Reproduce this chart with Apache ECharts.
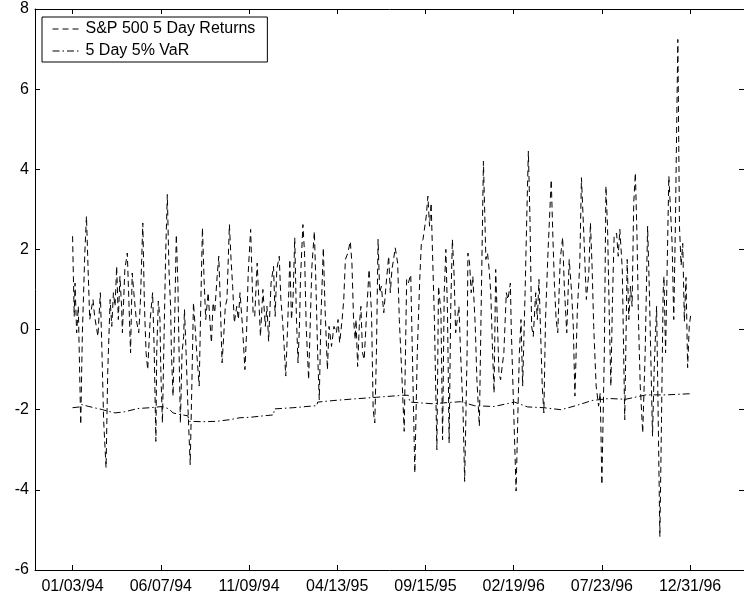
<!DOCTYPE html>
<html>
<head>
<meta charset="utf-8">
<script src="https://cdn.jsdelivr.net/npm/echarts@6/dist/echarts.min.js"></script>
<style>html,body{margin:0;padding:0;background:#fff}#c{width:744px;height:600px}</style>
</head>
<body>
<div id="c"></div>
<script>
// trading-day index (0 = 01/03/94) and 5-day returns
var returnDays = [0,2,3,5,7,10,12,15,17,19,21,23,25,27,29,31,34,36,38,41,43,46,48,50,52,54,56,58,60,61,64,67,69,71,73,75,78,81,83,86,88,90,92,95,98,100,102,103,105,107,108,110,112,114,116,118,120,121,123,125,127,129,130,132,134,136,137,139,141,144,146,148,150,152,155,157,159,161,163,166,168,170,172,174,177,179,181,183,185,187,189,192,194,196,198,201,203,205,208,211,213,215,218,221,223,226,228,230,233,236,238,240,243,246,248,250,253,255,257,259,261,263,266,268,270,272,274,276,278,279,282,284,286,289,291,293,296,298,300,302,304,307,309,312,314,317,320,323,325,327,330,332,334,337,340,342,344,346,347,349,351,353,355,357,360,363,366,368,370,372,374,376,378,381,384,387,389,391,393,395,398,400,403,406,409,411,414,416,419,422,425,427,429,433,435,437,439,441,443,446,448,451,453,455,457,459,461,463,465,467,469,471,473,475,478,480,483,484,486,488,490,493,495,498,500,503,506,508,510,512,514,516,518,520,522,524,528,531,533,536,537,540,543,545,547,549,551,554,556,558,560,562,564,567,569,571,573,575,577,579,582,586,588,590,592,594,597,600,602,605,608,611,613,615,618,621,623,626,629,632,634,636,638,641,644,646,648,651,653,655,657,659,661,663,666,668,670,673,676,679,681,683,685,687,689,691,693,695,698,701,704,706,708,710,712,715,717,719,721,723,724,726,730,734,736,738,741,743,745,747,749,751,753,755,757];
var returnValues = [2.33,0.33,1.16,-0.08,0.58,-2.37,-0.08,1.91,2.83,1.5,0.25,0.5,0.75,0.33,0.08,-0.17,0.92,-0.58,-2.25,-3.45,-1.08,0.75,0.08,0.92,0.58,1.58,0.25,1.33,0.58,-0.08,1.5,1.91,0.67,-0.58,1.41,0.92,0.25,-0.08,0.67,2.66,0.58,-0.58,-1.0,0.25,0.92,-0.58,-2.79,-0.58,0.71,0.25,-1.0,-2.33,-0.17,1.91,3.37,1.5,0.58,-0.58,-1.66,0.25,2.37,1.08,-0.17,-2.33,-0.58,-0.17,0.5,-0.58,-1.83,-3.37,-1.41,0.67,0.08,-0.58,-1.41,0.67,2.54,1.25,0.25,0.92,0.25,-0.33,0.67,0.42,1.33,1.83,0.58,-0.83,-0.17,0.58,0.75,2.62,1.75,1.08,0.17,0.58,0.25,0.92,0.08,-1.0,-0.08,1.4,2.5,0.42,0.33,1.66,0.75,-0.17,1.0,0.08,0.58,-0.29,1.16,1.58,0.33,1.5,1.83,0.75,0.25,-0.42,-1.16,-0.08,1.75,0.25,0.83,2.29,0.33,-0.83,0.25,1.25,2.62,1.91,0.08,-1.25,0.17,1.58,2.45,1.08,-0.58,-1.75,0.25,2.04,0.58,-1.0,0.08,-0.42,0.08,-0.08,0.25,-0.33,0.25,0.75,1.75,1.91,2.2,1.66,0.25,-0.25,0.25,-0.92,0.08,0.58,-0.58,-0.75,0.42,1.5,0.42,-2.0,-2.33,-0.58,2.25,0.92,1.08,0.42,1.16,1.83,0.92,1.5,1.75,2.04,1.66,0.25,-1.08,-2.54,1.25,1.16,1.37,-0.58,-3.58,-0.58,1.25,2.16,2.25,2.83,3.33,2.58,3.16,1.66,0.25,-3.0,1.08,0.42,-2.75,0.92,2.0,0.42,-2.83,0.58,2.25,1.41,-0.08,0.25,0.58,-0.58,-2.0,-3.79,-0.58,1.91,1.66,0.92,1.33,0.08,-1.25,-2.41,0.25,4.2,1.75,1.91,1.5,0.92,-0.42,-1.58,1.5,0.25,-1.08,-1.25,-0.58,0.92,0.75,1.16,0.08,-2.0,-4.03,-2.25,-0.58,0.25,-1.41,0.92,2.75,4.45,2.75,0.08,-0.17,0.92,0.25,1.25,-0.08,-1.41,-2.08,0.25,1.91,3.74,2.33,1.08,0.25,-0.08,1.75,2.3,1.08,-0.08,1.75,0.92,0.08,-1.66,0.5,1.66,3.79,2.33,0.75,1.41,2.66,1.58,0.08,-1.41,-1.91,-1.58,-3.87,-0.58,3.58,2.5,0.42,-1.41,0.75,2.33,2.41,1.83,2.5,1.5,-2.25,1.75,0.25,1.08,0.58,3.16,3.91,2.33,0.08,-1.41,-2.58,-0.58,2.58,1.08,-0.75,-2.66,-1.0,0.58,-2.25,-5.17,-2.25,0.92,1.33,-0.58,3.83,2.15,0.25,2.6,7.24,2.57,1.6,2.15,0.2,1.3,-0.95,0.1,0.4];

// 5-day 5% VaR
var varDays = [0,9,11,20,37,42,52,64,80,95,110,118,123,131,141,143,160,176,192,205,217,235,246,247,270,292,299,300,320,345,372,404,411,413,440,461,475,492,516,541,557,577,598,616,636,657,677,702,726,757];
var varValues = [-1.95,-1.93,-1.87,-1.92,-2.0,-2.03,-2.08,-2.05,-1.97,-1.95,-1.92,-1.98,-2.08,-2.12,-2.15,-2.29,-2.3,-2.29,-2.25,-2.2,-2.19,-2.15,-2.13,-1.98,-1.95,-1.91,-1.9,-1.81,-1.77,-1.73,-1.69,-1.64,-1.64,-1.81,-1.85,-1.82,-1.8,-1.9,-1.92,-1.81,-1.93,-1.95,-2.0,-1.9,-1.77,-1.72,-1.74,-1.63,-1.63,-1.6];

var tickDays = [0,108,216,324,432,540,648,756];
var tickLabels = ['01/03/94','06/07/94','11/09/94','04/13/95','09/15/95','02/19/96','07/23/96','12/31/96'];
var yTicks = {min: -6, max: 8, step: 2};

var retData = returnDays.map(function (d, i) { return [d, returnValues[i]]; });
var varData = varDays.map(function (d, i) { return [d, varValues[i]]; });

var font = '"Liberation Sans", Arial, Helvetica, sans-serif';
var chart = echarts.init(document.getElementById('c'), null, {renderer: 'canvas'});
var axisLine = {show: true, onZero: false, lineStyle: {color: '#000', width: 1}};
var tick = {show: true, inside: true, length: 5, lineStyle: {color: '#000', width: 1}};
var retStyle = {color: '#000', width: 1, type: [6, 4]};
var varStyle = {color: '#000', width: 1, type: [7, 3, 1.5, 3]};

chart.setOption({
  animation: false,
  backgroundColor: '#fff',
  grid: {left: 35, right: -1, top: 9, bottom: 30, containLabel: false},
  legend: {
    show: true,
    orient: 'vertical',
    left: 42, top: 17,
    padding: [4, 12, 3, 10],
    itemWidth: 28, itemHeight: 14, itemGap: 6,
    borderColor: '#000', borderWidth: 1, borderRadius: 0,
    backgroundColor: '#fff',
    selectedMode: false,
    itemStyle: {opacity: 0},
    textStyle: {color: '#000', fontSize: 16, fontFamily: font},
    data: [
      {name: 'S&P 500 5 Day Returns', itemStyle: {opacity: 0}, lineStyle: retStyle},
      {name: '5 Day 5% VaR', itemStyle: {opacity: 0}, lineStyle: varStyle}
    ]
  },
  xAxis: [{
    type: 'value', position: 'bottom', min: -46, max: 822,
    axisLine: axisLine,
    axisTick: Object.assign({customValues: tickDays}, tick),
    axisLabel: {customValues: tickDays, color: '#000', fontSize: 16, fontFamily: font, margin: 9,
      formatter: function (v) { var i = tickDays.indexOf(v); return i >= 0 ? tickLabels[i] : ''; }},
    splitLine: {show: false}
  }, {
    type: 'value', position: 'top', min: -46, max: 822,
    axisLine: axisLine,
    axisTick: Object.assign({customValues: tickDays}, tick),
    axisLabel: {show: false, customValues: tickDays},
    splitLine: {show: false}
  }],
  yAxis: [{
    type: 'value', position: 'left', min: yTicks.min, max: yTicks.max, interval: yTicks.step,
    axisLine: axisLine, axisTick: tick,
    axisLabel: {color: '#000', fontSize: 16, fontFamily: font, margin: 6},
    splitLine: {show: false}
  }, {
    type: 'value', position: 'right', min: yTicks.min, max: yTicks.max, interval: yTicks.step,
    axisLine: axisLine, axisTick: tick,
    axisLabel: {show: false},
    splitLine: {show: false}
  }],
  series: [{
    name: 'S&P 500 5 Day Returns', type: 'line', data: retData,
    xAxisIndex: 0, yAxisIndex: 0,
    symbol: 'none', smooth: false,
    lineStyle: retStyle,
    itemStyle: {color: '#000'}
  }, {
    name: '5 Day 5% VaR', type: 'line', data: varData,
    xAxisIndex: 0, yAxisIndex: 0,
    symbol: 'none', smooth: false,
    lineStyle: varStyle,
    itemStyle: {color: '#000'}
  }]
});
</script>
</body>
</html>
